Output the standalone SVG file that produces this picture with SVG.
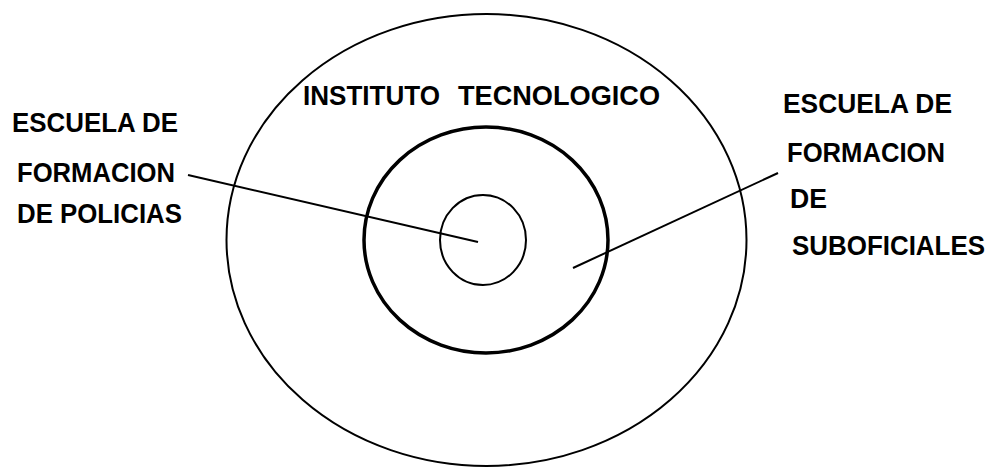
<svg xmlns="http://www.w3.org/2000/svg" width="993" height="469" viewBox="0 0 993 469">
<style>
.ring{fill:none;stroke:#000}
.lbl{font-family:"Liberation Sans",Arial,sans-serif;font-weight:bold;font-size:27px;fill:#000}
.conn{stroke:#000;stroke-width:2;fill:none}
</style>
<rect width="993" height="469" fill="#fff"/>
<g id="instituto">
<ellipse class="ring" cx="486.5" cy="240" rx="260" ry="226" stroke-width="2"/>
<text class="lbl" y="105"><tspan x="303" textLength="137" lengthAdjust="spacingAndGlyphs">INSTITUTO</tspan><tspan x="458" textLength="202" lengthAdjust="spacingAndGlyphs">TECNOLOGICO</tspan></text>
</g>
<g id="suboficiales">
<ellipse class="ring" cx="486" cy="240" rx="122" ry="113" stroke-width="3.5"/>
<text class="lbl"><tspan x="783" y="113" textLength="169" lengthAdjust="spacingAndGlyphs">ESCUELA DE</tspan><tspan x="787" y="162" textLength="158" lengthAdjust="spacingAndGlyphs">FORMACION</tspan><tspan x="790" y="208" textLength="37" lengthAdjust="spacingAndGlyphs">DE</tspan><tspan x="792" y="255" textLength="193" lengthAdjust="spacingAndGlyphs">SUBOFICIALES</tspan></text>
</g>
<g id="policias">
<ellipse class="ring" cx="483" cy="240" rx="43" ry="45" stroke-width="2"/>
<text class="lbl"><tspan x="12" y="132" textLength="166" lengthAdjust="spacingAndGlyphs">ESCUELA DE</tspan><tspan x="17" y="182" textLength="158" lengthAdjust="spacingAndGlyphs">FORMACION</tspan><tspan x="17" y="223" textLength="165" lengthAdjust="spacingAndGlyphs">DE POLICIAS</tspan></text>
</g>
<g id="connectors">
<line class="conn" x1="188" y1="175" x2="478" y2="242"/>
<line class="conn" x1="778" y1="173" x2="573" y2="268"/>
</g>
</svg>
